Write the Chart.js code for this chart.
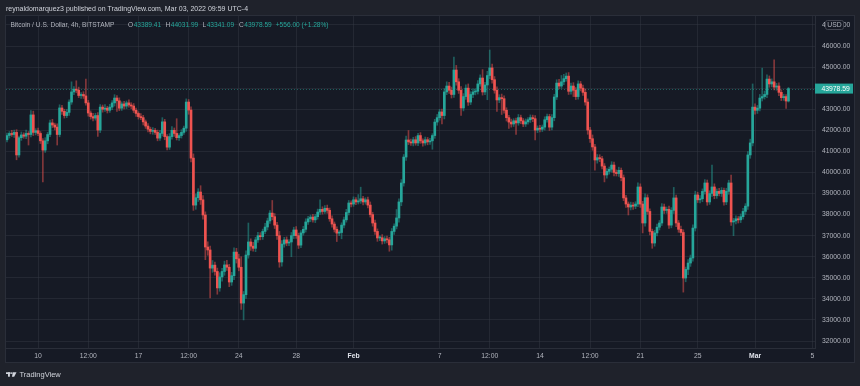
<!DOCTYPE html>
<html>
<head>
<meta charset="utf-8">
<title>BTCUSD 4h - BITSTAMP</title>
<script src="https://cdn.jsdelivr.net/npm/chart.js"></script>
<style>
    html, body { margin: 0; padding: 0; background: #1f222b; }
    #wrap { width: 860px; height: 386px; }
</style>
</head>
<body>
<div id="wrap"><canvas id="btcChart" width="860" height="386"></canvas></div>

<script>
    // 4h candles, Jan 7 20:00 -> Mar 3 08:00 (UTC-4); open = previous close
    const firstOpen = 41550;
    const closes = [
        41750, 41850, 41800, 41900, 40830, 41650, 41780, 41720, 41850, 41800,
        42730, 41900, 41980, 41850, 41500, 41060, 41500, 41800, 42350, 42250,
        42150, 41800, 43060, 42900, 42700, 42850, 43340, 43820, 43950, 43900,
        43650, 43700, 43630, 43300, 42820, 42650, 42580, 42700, 42010, 43100,
        43000, 43050, 42950, 43100, 43300, 43530, 43400, 43050, 43250, 43150,
        43300, 43200, 43150, 42950, 42800, 42650, 42600, 42400, 42200, 42050,
        41950, 42000, 41900, 41630, 41850, 42400, 41700, 41200, 41700, 42000,
        41850, 41650, 41750, 41900, 42100, 43340, 42960, 40680, 38450, 38800,
        39070, 38700, 37980, 36460, 36320, 35460, 35600, 35300, 34520, 35040,
        35300, 35610, 35500, 34800, 35100, 36220, 35900, 35500, 33800, 34200,
        36080, 36700, 36500, 36400, 36800, 37000, 36950, 37200, 37410, 37700,
        38070, 37900, 37500, 37000, 35750, 36600, 36800, 36650, 36700, 37000,
        37270, 37000, 36550, 37130, 37300, 37650, 37800, 37880, 37750, 37900,
        38120, 38250, 38150, 38300, 38200, 37800, 37550, 37300, 37120, 37150,
        37500, 37750, 38100, 38550, 38500, 38700, 38600, 38650, 38750, 38600,
        38700, 38450, 38000, 37600, 37200, 36890, 36900, 36750, 36850, 36800,
        36560, 37200, 37450, 37840, 38600, 39500, 40730, 41540, 41450, 41400,
        41550, 41400, 41750, 41500, 41400, 41550, 41450, 41500, 41750, 42390,
        42600, 42870, 42700, 43820, 44100, 43900, 43700, 44860, 44300, 43900,
        43060, 43600, 44000, 43340, 43700, 43820, 43850, 44200, 44480, 43820,
        44150, 44600, 44960, 44400, 43900, 43440, 43550, 43500, 42950, 42600,
        42390, 42300, 42450, 42350, 42600, 42450, 42300, 42400, 42500, 42600,
        42550, 42010, 42100, 42050, 42150, 42500, 42650, 42150, 42600, 43580,
        44240, 44100, 44300, 44450, 44570, 43850, 44100, 43900, 43600, 44200,
        44000, 43800, 43340, 42010, 41600, 41210, 40590, 40700, 40650, 40300,
        39880, 40050, 40150, 40350, 40000, 39950, 40100, 39750, 38790, 38500,
        38360, 38450, 38400, 38500, 39310, 38500, 37600, 38800, 38150, 37200,
        36650, 37130, 37400, 37600, 38360, 38200, 38250, 37500, 38200, 38790,
        37600, 37300, 37150, 34990, 35400, 35700, 35940, 37360, 38930, 38700,
        38750, 39100, 39500, 38600, 39000, 39310, 38900, 39100, 39000, 39150,
        38600, 39100, 39500, 37650, 37700, 37800, 37750, 37900, 38150, 38400,
        40830, 41400, 43100, 42950, 43050, 43530, 43600, 43700, 44430, 44200,
        44300, 44050, 44100, 43800, 43550, 43600, 43389.41, 43978.59
    ];
    // wick length above / below the body (USD)
    const wickUp = [
        120, 90, 150, 110, 130, 80, 140, 100, 160, 90,
        200, 180, 100, 120, 90, 110, 150, 100, 130, 170,
        90, 160, 150, 120, 100, 140, 110, 480, 120, 400,
        150, 90, 130, 800, 120, 100, 150, 110, 140, 120,
        100, 170, 90, 130, 110, 160, 120, 140, 100, 130,
        90, 150, 110, 120, 100, 80, 140, 110, 90, 120,
        100, 130, 90, 110, 150, 200, 120, 100, 140, 180,
        110, 700, 90, 130, 100, 150, 120, 150, 200, 180,
        160, 300, 200, 150, 250, 180, 220, 140, 160, 200,
        150, 180, 220, 140, 160, 200, 180, 220, 500, 150,
        200, 900, 150, 180, 120, 160, 140, 110, 170, 130,
        120, 600, 150, 130, 200, 160, 120, 140, 110, 150,
        130, 160, 120, 110, 140, 150, 120, 100, 130, 110,
        140, 450, 120, 130, 150, 110, 140, 100, 120, 90,
        110, 130, 150, 120, 100, 140, 110, 300, 550, 120,
        100, 130, 150, 110, 140, 120, 100, 150, 110, 130,
        120, 140, 110, 400, 150, 160, 120, 180, 450, 130,
        120, 150, 110, 140, 100, 130, 110, 120, 90, 130,
        150, 120, 140, 160, 200, 180, 150, 620, 220, 150,
        180, 140, 160, 200, 130, 150, 120, 160, 150, 400,
        130, 200, 850, 180, 150, 160, 140, 170, 130, 120,
        110, 140, 100, 130, 150, 120, 110, 140, 100, 130,
        120, 150, 110, 130, 100, 140, 120, 110, 150, 130,
        160, 180, 300, 200, 150, 170, 140, 160, 130, 150,
        120, 140, 160, 150, 130, 180, 120, 150, 140, 110,
        120, 130, 110, 160, 140, 120, 150, 110, 130, 120,
        100, 140, 120, 110, 200, 150, 130, 180, 140, 120,
        110, 130, 150, 120, 160, 140, 110, 150, 130, 500,
        140, 120, 150, 130, 110, 160, 140, 150, 180, 130,
        150, 120, 160, 140, 130, 1040, 150, 120, 140, 130,
        110, 150, 130, 380, 120, 140, 110, 130, 150, 120,
        160, 180, 1100, 150, 130, 170, 1350, 160, 200, 150,
        140, 1040, 130, 150, 120, 110, 100, 53.40
    ];
    const wickDown = [
        100, 120, 90, 140, 230, 110, 130, 100, 120, 500,
        110, 150, 120, 100, 130, 1510, 110, 140, 100, 120,
        130, 500, 110, 150, 120, 100, 140, 110, 130, 120,
        100, 140, 120, 110, 150, 120, 130, 100, 300, 120,
        140, 110, 130, 100, 120, 150, 500, 120, 110, 140,
        120, 100, 130, 110, 140, 120, 100, 150, 110, 130,
        120, 140, 100, 130, 110, 120, 150, 130, 110, 120,
        140, 110, 130, 120, 100, 150, 200, 180, 250, 200,
        180, 220, 200, 600, 250, 1420, 200, 180, 300, 160,
        200, 180, 150, 220, 160, 190, 200, 170, 300, 800,
        180, 150, 200, 140, 160, 120, 150, 130, 110, 140,
        120, 150, 160, 180, 250, 200, 150, 130, 120, 700,
        140, 130, 160, 120, 110, 130, 120, 140, 110, 130,
        120, 110, 130, 100, 140, 120, 150, 130, 400, 120,
        300, 130, 110, 120, 140, 110, 130, 100, 120, 140,
        110, 130, 120, 150, 140, 160, 130, 150, 120, 140,
        300, 250, 140, 130, 200, 180, 150, 160, 130, 120,
        140, 110, 130, 120, 150, 110, 140, 120, 400, 130,
        150, 120, 400, 160, 130, 150, 170, 140, 160, 150,
        350, 140, 130, 160, 120, 150, 140, 130, 110, 150,
        130, 700, 150, 160, 140, 550, 130, 750, 140, 160,
        300, 150, 120, 550, 110, 140, 130, 120, 110, 130,
        140, 470, 120, 130, 110, 140, 120, 160, 130, 150,
        120, 140, 110, 130, 120, 150, 130, 300, 140, 120,
        130, 140, 150, 200, 180, 160, 480, 150, 140, 130,
        330, 150, 130, 140, 160, 120, 140, 150, 130, 160,
        380, 140, 150, 120, 130, 160, 470, 150, 140, 160,
        250, 150, 140, 130, 120, 150, 140, 160, 130, 150,
        170, 140, 150, 670, 180, 250, 160, 150, 140, 130,
        150, 140, 130, 160, 120, 140, 150, 130, 120, 140,
        150, 130, 140, 160, 650, 140, 150, 130, 120, 140,
        150, 160, 140, 180, 150, 130, 140, 120, 150, 160,
        140, 130, 150, 160, 140, 130, 350, 48.32
    ];

    // time axis: candle index of each label
    const timeTicks = [13, 34, 55, 76, 97, 121, 145, 181, 202, 223, 244, 265, 289, 313, 337];
    const timeLabels = ['10', '12:00', '17', '12:00', '24', '28', 'Feb', '7', '12:00', '14', '12:00', '21', '25', 'Mar', '5'];
    const priceTicks = [32000, 33000, 34000, 35000, 36000, 37000, 38000, 39000, 40000,
                        41000, 42000, 43000, 44000, 45000, 46000, 47000];
    const lastPrice = 43978.59;

    const headerText = 'reynaldomarquez3 published on TradingView.com, Mar 03, 2022 09:59 UTC-4';
    const symbolText = 'Bitcoin / U.S. Dollar, 4h, BITSTAMP';
    const ohlcLabels = ['O', 'H', 'L', 'C'];
    const ohlcValues = ['43389.41', '44031.99', '43341.09', '43978.59'];
    const changeText = '+556.00 (+1.28%)';

    const UP = '#26a69a';
    const DOWN = '#ef5350';
    const FONT = '"Liberation Sans", Arial, sans-serif';

    const opens = closes.map((c, i) => i === 0 ? firstOpen : closes[i - 1]);
    const isUp = closes.map((c, i) => c >= opens[i]);
    const bodies = closes.map((c, i) => ({ x: i, y: [opens[i], c] }));
    const wicks = closes.map((c, i) => ({
        x: i,
        y: [Math.min(opens[i], c) - wickDown[i], Math.max(opens[i], c) + wickUp[i]]
    }));

    const chrome = {
        id: 'chrome',
        beforeDraw(chart) {
            const ctx = chart.ctx;
            ctx.save();
            ctx.fillStyle = '#1f222b';
            ctx.fillRect(0, 0, 860, 386);
            ctx.fillStyle = '#161a25';
            ctx.fillRect(6, 16, 848, 346);
            ctx.strokeStyle = '#2a2e39';
            ctx.lineWidth = 1;
            ctx.strokeRect(5.5, 15.5, 849, 347);
            ctx.restore();
        },
        beforeDatasetsDraw(chart) {
            const ctx = chart.ctx;
            const a = chart.chartArea;
            const y = Math.round(chart.scales.y.getPixelForValue(lastPrice)) + 0.5;
            ctx.save();
            ctx.strokeStyle = 'rgba(38,166,154,0.5)';
            ctx.setLineDash([1, 2]);
            ctx.beginPath();
            ctx.moveTo(a.left, y);
            ctx.lineTo(a.right, y);
            ctx.stroke();
            ctx.restore();
        },
        afterDraw(chart) {
            const ctx = chart.ctx;
            const yp = chart.scales.y.getPixelForValue(lastPrice);
            ctx.save();

            // last price tag
            ctx.fillStyle = UP;
            ctx.fillRect(815, yp - 5, 38, 10);
            ctx.fillStyle = '#ffffff';
            ctx.font = '6.8px ' + FONT;
            ctx.textBaseline = 'middle';
            ctx.fillText(lastPrice.toFixed(2), 821.5, yp + 0.5);

            // USD badge
            ctx.fillStyle = '#161a25';
            ctx.strokeStyle = '#434651';
            ctx.beginPath();
            ctx.roundRect(825.5, 20.5, 18, 9, 2);
            ctx.fill();
            ctx.stroke();
            ctx.fillStyle = '#b2b5be';
            ctx.textAlign = 'center';
            ctx.fillText('USD', 834.5, 25.5);
            ctx.textAlign = 'left';

            // header
            ctx.fillStyle = '#d1d4dc';
            ctx.font = '7px ' + FONT;
            ctx.fillText(headerText, 6, 9.5);

            // symbol legend
            ctx.font = '6.6px ' + FONT;
            ctx.fillStyle = '#b2b5be';
            ctx.fillText(symbolText, 10.5, 25.5);
            const ohlcX = [128, 165.5, 202.5, 239];
            let end = 0;
            ohlcLabels.forEach((lab, k) => {
                ctx.fillStyle = '#b2b5be';
                ctx.fillText(lab, ohlcX[k], 25.5);
                const w = ctx.measureText(lab).width;
                ctx.fillStyle = UP;
                ctx.fillText(ohlcValues[k], ohlcX[k] + w + 0.5, 25.5);
                end = ohlcX[k] + w + 0.5 + ctx.measureText(ohlcValues[k]).width;
            });
            ctx.fillStyle = UP;
            ctx.fillText(changeText, Math.max(274, end + 4), 25.5);

            // TradingView mark
            ctx.fillStyle = '#d1d4dc';
            ctx.fillRect(6, 372.3, 4.6, 1.7);
            ctx.fillRect(8, 372.3, 1.9, 4.4);
            ctx.beginPath();
            ctx.arc(11.8, 373.1, 0.9, 0, Math.PI * 2);
            ctx.fill();
            ctx.beginPath();
            ctx.moveTo(13, 372.3);
            ctx.lineTo(16.5, 372.3);
            ctx.lineTo(14.2, 376.7);
            ctx.lineTo(11.9, 376.7);
            ctx.closePath();
            ctx.fill();
            ctx.font = '7.5px ' + FONT;
            ctx.fillText('TradingView', 19.5, 375);
            ctx.restore();
        }
    };

    new Chart(document.getElementById('btcChart'), {
        type: 'bar',
        data: {
            datasets: [
                {
                    label: 'body',
                    data: bodies,
                    backgroundColor: closes.map((c, i) => isUp[i] ? UP : DOWN),
                    barThickness: 2,
                    minBarLength: 1,
                    grouped: false,
                    borderWidth: 0
                },
                {
                    label: 'wick',
                    data: wicks,
                    backgroundColor: closes.map((c, i) => isUp[i] ? 'rgba(38,166,154,0.5)' : 'rgba(239,83,80,0.5)'),
                    barThickness: 1,
                    grouped: false,
                    borderWidth: 0
                }
            ]
        },
        options: {
            responsive: false,
            animation: false,
            layout: { padding: { left: 6, top: 16, right: 6, bottom: 24 } },
            plugins: {
                legend: { display: false },
                tooltip: { enabled: false }
            },
            scales: {
                x: {
                    type: 'linear',
                    offset: false,
                    min: -0.42,
                    max: 338.1,
                    afterBuildTicks: s => { s.ticks = timeTicks.map(v => ({ value: v })); },
                    afterFit: s => { s.height = 14; },
                    ticks: {
                        autoSkip: false,
                        maxRotation: 0,
                        minRotation: 0,
                        padding: 4.5,
                        callback: v => timeLabels[timeTicks.indexOf(v)],
                        color: c => ['Feb', 'Mar'].includes(timeLabels[c.index]) ? '#e0e3eb' : '#b2b5be',
                        font: c => ({
                            family: FONT,
                            size: 6.8,
                            weight: ['Feb', 'Mar'].includes(timeLabels[c.index]) ? 'bold' : 'normal'
                        })
                    },
                    grid: { color: 'rgba(54,58,69,0.45)', drawTicks: false, offset: false },
                    border: { color: '#2a2e39' }
                },
                y: {
                    position: 'right',
                    min: 31668,
                    max: 47424,
                    afterBuildTicks: s => { s.ticks = priceTicks.map(v => ({ value: v })); },
                    afterFit: s => { s.width = 39; },
                    ticks: {
                        padding: 7,
                        color: '#b2b5be',
                        font: { family: FONT, size: 6.8 },
                        callback: v => v.toFixed(2)
                    },
                    grid: { color: 'rgba(54,58,69,0.45)', drawTicks: false },
                    border: { color: '#2a2e39' }
                }
            }
        },
        plugins: [chrome]
    });
</script>
</body>
</html>
